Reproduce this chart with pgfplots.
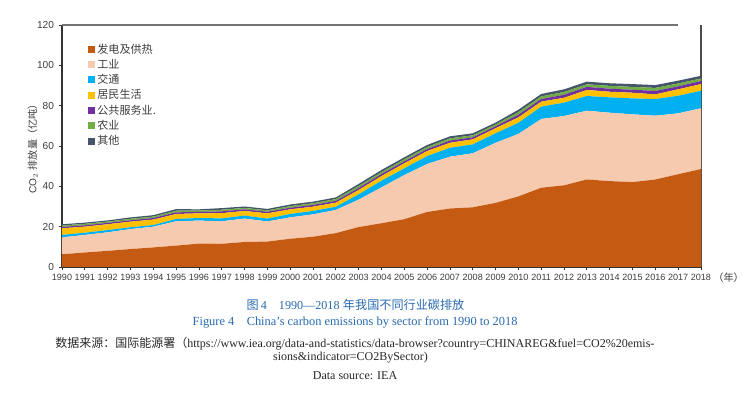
\documentclass[border=0pt]{standalone}
\usepackage{pgfplots}
\pgfplotsset{compat=1.18}
\usepackage{pgfplotstable}
\usepackage{fontspec}
\setmainfont{Liberation Sans}
\newfontfamily\serif{Liberation Serif}
\newfontfamily\cjk{Noto Sans CJK SC}
\definecolor{cPower}{RGB}{197,90,18}
\definecolor{cInd}{RGB}{246,202,175}
\definecolor{cTrans}{RGB}{0,176,240}
\definecolor{cRes}{RGB}{255,192,0}
\definecolor{cCom}{RGB}{112,48,160}
\definecolor{cAgr}{RGB}{112,173,71}
\definecolor{cOth}{RGB}{68,84,106}
\definecolor{capblue}{RGB}{40,105,175}
\definecolor{tickgray}{RGB}{60,60,60}

\pgfplotstableread{
year power industry transport residential commercial agriculture other
1990 6.3 8.4 1.2 3.3 0.7 0.7 0.6
1991 7.2 8.7 1.1 3.0 0.7 0.7 0.6
1992 8.0 9.2 1.1 2.9 0.7 0.6 0.6
1993 8.9 9.9 0.9 2.8 0.7 0.7 0.7
1994 9.7 10.3 0.8 2.7 0.8 0.7 0.7
1995 10.6 12.1 1.1 2.5 0.8 0.8 0.8
1996 11.6 11.4 1.3 2.3 0.7 0.7 0.6
1997 11.5 11.2 1.4 2.6 0.9 0.8 0.8
1998 12.4 11.6 1.5 2.3 0.8 0.7 0.7
1999 12.6 10.0 1.4 2.6 0.8 0.7 0.7
2000 14.0 10.6 1.7 2.3 0.8 0.8 0.8
2001 15.0 11.1 1.7 2.1 0.9 0.8 0.8
2002 16.8 11.5 1.6 2.0 0.9 0.9 0.8
2003 19.8 13.6 2.6 2.2 1.0 1.0 1.0
2004 21.7 17.8 3.3 2.3 1.0 1.0 1.0
2005 23.7 21.9 3.3 2.5 1.0 1.0 1.0
2006 27.3 23.8 3.9 2.5 1.0 1.0 1.0
2007 29.0 25.7 4.4 2.5 1.1 1.1 1.0
2008 29.6 26.8 4.4 2.5 1.0 1.0 1.0
2009 31.8 29.8 4.7 2.5 1.0 0.9 0.9
2010 35.0 31.0 5.5 2.7 1.3 1.3 1.2
2011 39.3 34.1 6.1 2.5 1.3 1.3 1.2
2012 40.5 34.4 6.6 2.4 1.5 1.4 1.3
2013 43.4 34.1 7.3 3.0 1.5 1.3 1.3
2014 42.6 33.9 7.6 2.8 1.5 1.4 1.3
2015 42.1 33.6 7.9 2.8 1.5 1.4 1.4
2016 43.4 31.6 8.3 2.3 1.7 1.5 1.4
2017 46.0 30.2 8.7 3.2 1.5 1.4 1.4
2018 48.6 30.1 8.7 3.3 1.5 1.3 1.3
}\data

\begin{document}
\begin{tikzpicture}
\path[use as bounding box] (0pt,0pt) rectangle (562.5pt,294.75pt);
\begin{axis}[
  at={(46.5pt,94.5pt)}, anchor=south west,
  width=479.25pt, height=181.5pt, scale only axis,
  xmin=1990, xmax=2018, ymin=0, ymax=120,
  stack plots=y,
  axis x line*=bottom, axis y line*=left,
  axis line style={black!80, line width=0.8pt},
  xtick={1990,...,2018},
  ytick={0,20,...,120},
  x tick label style={font=\fontsize{6.8pt}{7pt}\selectfont, text=tickgray, /pgf/number format/1000 sep={}},
  y tick label style={font=\fontsize{7.6pt}{8pt}\selectfont, text=tickgray},
  /pgf/number format/assume math mode=true,
  xticklabel={\pgfmathprintnumber[1000 sep={},fixed]{\tick}},
  tick align=outside,
  major tick length=2.5pt,
  tick style={black!80, line width=0.6pt},
  xtick pos=bottom, ytick pos=left,
  xticklabel shift=-1pt,
  clip=false,
  legend cell align=left,
  legend style={at={(0.04,0.935)}, anchor=north west, draw=none, fill=none,
    font=\cjk\fontsize{8.3pt}{9pt}\selectfont, text=tickgray,
    row sep=-1pt, inner sep=0pt},
  legend image code/.code={\fill[#1] (0pt,-2.6pt) rectangle (5.2pt,2.6pt);},
]
\addplot[fill=cPower, draw=none] table[x=year,y=power]{\data} \closedcycle;
\addlegendentry{发电及供热}
\addplot[fill=cInd, draw=none] table[x=year,y=industry]{\data} \closedcycle;
\addlegendentry{工业}
\addplot[fill=cTrans, draw=none] table[x=year,y=transport]{\data} \closedcycle;
\addlegendentry{交通}
\addplot[fill=cRes, draw=none] table[x=year,y=residential]{\data} \closedcycle;
\addlegendentry{居民生活}
\addplot[fill=cCom, draw=none] table[x=year,y=commercial]{\data} \closedcycle;
\addlegendentry{公共服务业.}
\addplot[fill=cAgr, draw=none] table[x=year,y=agriculture]{\data} \closedcycle;
\addlegendentry{农业}
\addplot[fill=cOth, draw=none] table[x=year,y=other]{\data} \closedcycle;
\addlegendentry{其他}
\draw[black!55, line width=1pt] (axis cs:1990,120) -- (axis cs:2017,120);
\draw[black!70, line width=0.8pt] (axis cs:2018,0) -- (axis cs:2018,120);
\end{axis}
\node[font=\cjk\fontsize{7.6pt}{8pt}\selectfont, text=tickgray] at (546.5pt,86.5pt) {（年）};
\node[rotate=90, font=\fontsize{7.6pt}{8pt}\selectfont, text=tickgray] at (24.5pt,185pt) {CO$_2$ {\cjk 排放量（亿吨）}};
\node[text=capblue, font=\fontsize{9.1pt}{10pt}\selectfont] at (266.6pt,66pt) {{\cjk 图}\,{\serif 4\quad 1990—2018} {\cjk 年我国不同行业碳排放}};
\node[text=capblue, font=\serif\fontsize{9.3pt}{10pt}\selectfont] at (266.3pt,53.25pt) {Figure 4\quad China’s carbon emissions by sector from 1990 to 2018};
\node[anchor=west, inner sep=0pt, font=\serif\fontsize{9pt}{9pt}\selectfont, text=black!85] at (41.25pt,36.75pt) {{\cjk 数据来源：国际能源署（}https://www.iea.org/data-and-statistics/data-browser?country=CHINAREG\&fuel=CO2\%20emis-};
\node[font=\serif\fontsize{9pt}{9pt}\selectfont, text=black!85] at (262.9pt,26.25pt) {sions\&indicator=CO2BySector)};
\node[font=\serif\fontsize{9pt}{9pt}\selectfont, text=black!85] at (266.3pt,12.75pt) {Data source: IEA};
\end{tikzpicture}
\end{document}
